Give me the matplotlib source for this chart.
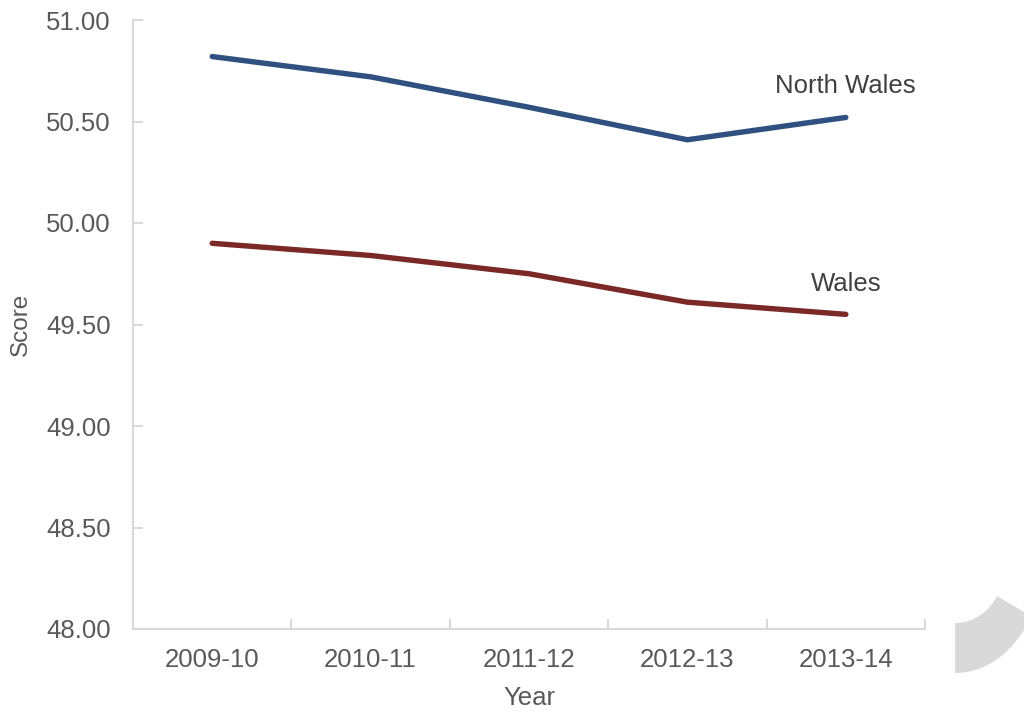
import matplotlib
matplotlib.use("Agg")
import matplotlib.pyplot as plt
from matplotlib.path import Path
from matplotlib.patches import PathPatch

years = ["2009-10", "2010-11", "2011-12", "2012-13", "2013-14"]
north_wales = [50.82, 50.72, 50.57, 50.41, 50.52]
wales = [49.90, 49.84, 49.75, 49.61, 49.55]
y_ticks = [48.00, 48.50, 49.00, 49.50, 50.00, 50.50, 51.00]

plt.rcParams['font.family'] = ['Liberation Sans', 'DejaVu Sans']
W, H = 1024, 713
fig = plt.figure(figsize=(W / 100, H / 100), dpi=100)
ax = fig.add_axes([133 / W, 1 - 629 / H, (925 - 133) / W, (629 - 20) / H])

x = list(range(len(years)))
ax.plot(x, north_wales, color="#2F5080", lw=3.9, solid_capstyle="round", solid_joinstyle="miter")
ax.plot(x, wales, color="#7B2926", lw=3.9, solid_capstyle="round", solid_joinstyle="miter")

ax.set_xlim(-0.5, len(years) - 0.5)
ax.set_ylim(48.0, 51.0)
ax.set_yticks(y_ticks)
ax.set_yticklabels([f"{v:.2f}" for v in y_ticks])
ax.set_xticks(x)
ax.set_xticklabels(years)
ax.set_xticks([i + 0.5 for i in range(len(years))], minor=True)

grey = "#D9D9D9"
txt = "#595959"
for s in ["top", "right"]:
    ax.spines[s].set_visible(False)
for s in ["left", "bottom"]:
    ax.spines[s].set_color(grey)
    ax.spines[s].set_linewidth(1.5)

ax.tick_params(axis="x", which="major", length=0, pad=14, labelsize=18.5, labelcolor=txt)
ax.tick_params(axis="x", which="minor", length=7, width=1.5, direction="in", color=grey)
ax.tick_params(axis="y", length=7, width=1.5, direction="in", color=grey, pad=16,
               labelsize=18.5, labelcolor=txt)

ax.set_ylabel("Score", fontsize=17.5, color=txt, labelpad=10)
ax.set_xlabel("Year", fontsize=18.5, color=txt, labelpad=10)

ax.text(4, 50.675, "North Wales", fontsize=18.5, color="#404040", ha="center", va="center")
ax.text(4.0, 49.70, "Wales", fontsize=18.5, color="#404040", ha="center", va="center")

# decorative grey curl at bottom-right (pixel coords -> figure coords)
def P(px, py):
    return (px / W, 1 - py / H)

verts = [P(955, 623),
         P(975, 623), P(990, 610), P(997, 596),
         P(1024, 612),
         P(1024, 630),
         P(1005, 660), P(980, 673), P(955, 673),
         P(955, 623)]
codes = [Path.MOVETO,
         Path.CURVE4, Path.CURVE4, Path.CURVE4,
         Path.LINETO,
         Path.LINETO,
         Path.CURVE4, Path.CURVE4, Path.CURVE4,
         Path.CLOSEPOLY]
fig.patches.append(PathPatch(Path(verts, codes), transform=fig.transFigure,
                             facecolor="#D9D9D9", edgecolor="none"))

fig.savefig("out.png", dpi=100)
